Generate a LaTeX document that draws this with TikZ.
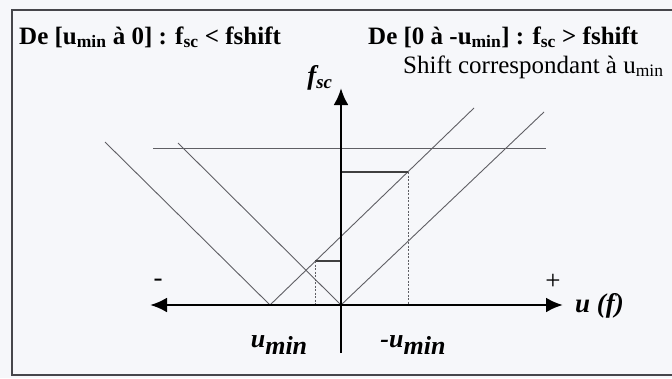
\documentclass[tikz,border=0pt]{standalone}
\usepackage{fontspec}
\setmainfont{Liberation Serif}
\usetikzlibrary{arrows.meta}
\definecolor{bgc}{RGB}{246,247,250}
\definecolor{linec}{RGB}{95,95,100}
\definecolor{framec}{RGB}{70,70,75}
\tikzset{
  thinline/.style={draw=linec, line width=0.9pt},
  dashline/.style={draw=linec, line width=0.8pt, dash pattern=on 2pt off 1.5pt},
  axis/.style={draw=black, line width=2.8pt},
  tip/.style={-{Latex[length=17pt,width=15pt]}},
  title/.style={font=\fontsize{25}{28}\selectfont\bfseries, anchor=base west, inner sep=0pt},
  plain/.style={font=\fontsize{25}{28}\selectfont, anchor=base west, inner sep=0pt},
  axlabel/.style={font=\fontsize{26}{28}\selectfont\bfseries\itshape, inner sep=0pt},
  sign/.style={font=\fontsize{27}{28}\selectfont, inner sep=0pt}
}
\begin{document}
\begin{tikzpicture}[x=1pt,y=-1pt]
\useasboundingbox (0,0) rectangle (672,378);
\clip (0,0) rectangle (672,378);
\fill[bgc] (0,0) rectangle (672,378);
% frame
\draw[framec, line width=1.4pt] (700,10) -- (12,10) -- (12,375) -- (700,375);
% named points
\coordinate (O) at (341,305);
\coordinate (xl) at (150,305);
\coordinate (xr) at (563,305);
\coordinate (yb) at (341,353);
\coordinate (yt) at (341,88);
\coordinate (h1) at (153,148);
\coordinate (h2) at (546,148);
\coordinate (a1) at (105,142);
\coordinate (v1) at (270,305);
\coordinate (a2) at (474,108);
\coordinate (b1) at (178,143);
\coordinate (b2) at (544,112);
\coordinate (p1) at (408,172);
\coordinate (p1y) at (341,172);
\coordinate (p1x) at (408,305);
\coordinate (p2) at (315,261);
\coordinate (p2y) at (341,261);
\coordinate (p2x) at (315,305);
% curves
\draw[thinline] (h1) -- (h2);
\draw[thinline] (a1) -- (v1) -- (a2);
\draw[thinline] (b1) -- (O) -- (b2);
\draw[thinline, line width=1.3pt, draw=black!75] (p1y) -- (p1);
\draw[thinline, line width=1.3pt, draw=black!75] (p2) -- (p2y);
\draw[dashline] (p1) -- (p1x);
\draw[dashline] (p2) -- (p2x);
% axes
\draw[axis, tip] (O) -- (xl);
\draw[axis, tip] (O) -- (xr);
\draw[axis, tip] (yb) -- (yt);
% texts
\node[title] (t1) at (19,44) {De [u\textsubscript{min} à 0] : f\textsubscript{sc} < fshift};
\node[title] (t2) at (368,44) {De [0 à -u\textsubscript{min}] : f\textsubscript{sc} > fshift};
\node[plain] (t3) at (403,73) {Shift correspondant à u\textsubscript{min}};
\node[axlabel, font=\fontsize{27}{28}\selectfont\bfseries\itshape] (fsc) at (320,78) {f\textsubscript{sc}};
\node[sign] (minus) at (158,283) {-};
\node[sign] (plus) at (553,282) {+};
\node[axlabel, anchor=west, font=\fontsize{27}{28}\selectfont\bfseries\itshape] (uf) at (575,306) {u (f)};
\node[axlabel] (um) at (279,345) {u\raisebox{-0.3em}{min}};
\node[axlabel] (mum) at (413,345) {-u\raisebox{-0.3em}{min}};
\end{tikzpicture}
\end{document}
